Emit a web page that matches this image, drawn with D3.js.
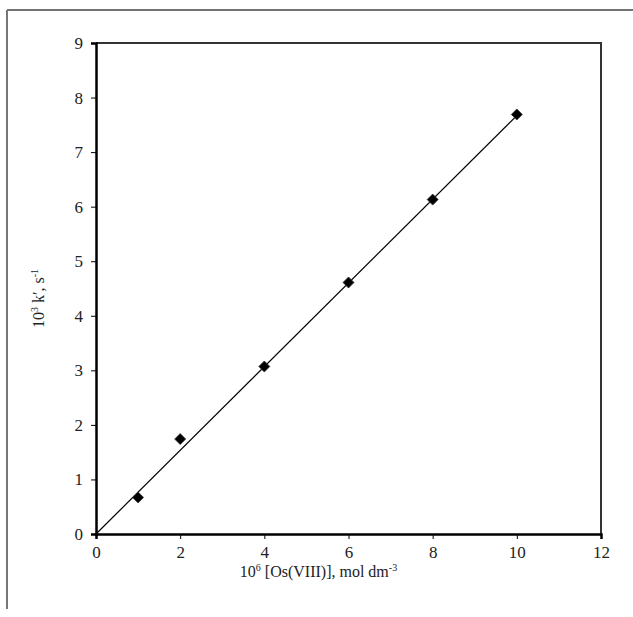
<!DOCTYPE html>
<html>
<head>
<meta charset="utf-8">
<script src="https://cdn.jsdelivr.net/npm/d3@7"></script>
<style>
  body { margin: 0; background: #fff; }
  svg text { font-family: "Liberation Serif", "Times New Roman", serif; fill: #222; }
</style>
</head>
<body>
<div id="chart"></div>
<script>
// measured data: concentration vs rate constant
var osConc = [1, 2, 4, 6, 8, 10];
var rateK = [0.67, 1.74, 3.07, 4.61, 6.13, 7.69];

// fitted line through origin
var fitX = [0, 10];
var fitY = [0, 7.67];

var xTicks = [0, 2, 4, 6, 8, 10, 12];
var yTicks = [0, 1, 2, 3, 4, 5, 6, 7, 8, 9];

var margin = {top: 43, left: 96, right: 32, bottom: 83},
  width = 633 - margin.left - margin.right,
  height = 617 - margin.top - margin.bottom;

var svg = d3.select("#chart")
  .append("svg")
    .attr("width", 633)
    .attr("height", 617);

// outer frame (only top and left edges visible)
svg.append("line")
  .attr("x1", 7).attr("x2", 633).attr("y1", 10).attr("y2", 10)
  .style("stroke", "#444").style("stroke-width", 1.5);
svg.append("line")
  .attr("x1", 7).attr("x2", 7).attr("y1", 10).attr("y2", 609)
  .style("stroke", "#777").style("stroke-width", 2);

var chart = svg.append("g")
  .attr("transform", "translate(" + margin.left + "," + margin.top + ")");

var x = d3.scaleLinear().domain([0, 12]).range([0, width]);
var y = d3.scaleLinear().domain([0, 9]).range([height, 0]);

// plot border top and right
chart.append("path")
  .attr("d", "M0,0H" + width + "V" + height)
  .style("fill", "none")
  .style("stroke", "#333")
  .style("stroke-width", 2);

// x axis
var xAxis = chart.append("g")
  .attr("transform", "translate(0," + height + ")")
  .call(d3.axisBottom(x).tickValues(xTicks).tickSize(5).tickPadding(7));

// y axis
var yAxis = chart.append("g")
  .call(d3.axisLeft(y).tickValues(yTicks).tickSize(5).tickPadding(8));

[xAxis, yAxis].forEach(function(a) {
  a.select(".domain").style("stroke", "#000").style("stroke-width", 2.5);
  a.selectAll(".tick line").style("stroke", "#000");
  a.selectAll(".tick text").style("font-size", "17px")
    .style("font-family", "Liberation Serif, serif").style("fill", "#222");
});

// axis titles
var xt = chart.append("text")
  .attr("x", width / 2 - 30)
  .attr("y", height + 43)
  .style("text-anchor", "middle")
  .style("font-size", "16px");
xt.append("tspan").text("10");
xt.append("tspan").attr("dy", -6).style("font-size", "10px").text("6");
xt.append("tspan").attr("dy", 6).text(" [Os(VIII)], mol dm");
xt.append("tspan").attr("dy", -6).style("font-size", "10px").text("-3");

var yt = chart.append("text")
  .attr("transform", "translate(-52," + (height / 2 + 10) + ") rotate(-90)")
  .style("text-anchor", "middle")
  .style("font-size", "16px");
yt.append("tspan").text("10");
yt.append("tspan").attr("dy", -6).style("font-size", "10px").text("3");
yt.append("tspan").attr("dy", 6).text(" k\u2032, s");
yt.append("tspan").attr("dy", -6).style("font-size", "10px").text("-1");

// fitted line
var line = d3.line()
  .x(function(d) { return x(d[0]); })
  .y(function(d) { return y(d[1]); });

chart.append("path")
  .datum(d3.zip(fitX, fitY))
  .attr("d", line)
  .style("fill", "none")
  .style("stroke", "#000")
  .style("stroke-width", 1.2);

// diamond markers
chart.selectAll(".pt")
  .data(d3.zip(osConc, rateK))
  .enter().append("path")
    .attr("class", "pt")
    .attr("transform", function(d) { return "translate(" + x(d[0]) + "," + y(d[1]) + ")"; })
    .attr("d", "M0,-5.5L5.5,0L0,5.5L-5.5,0Z")
    .style("fill", "#000")
    .style("stroke", "#333")
    .style("stroke-width", 0.8);
</script>
</body>
</html>
